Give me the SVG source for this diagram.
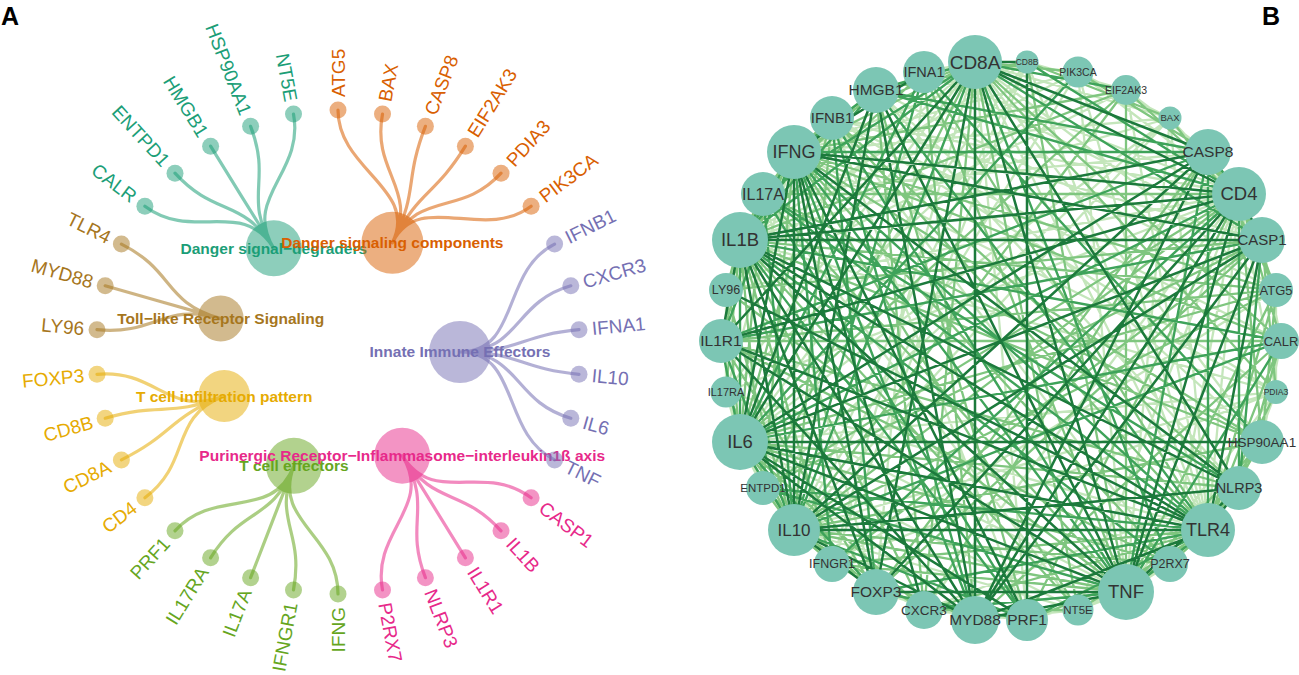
<svg xmlns="http://www.w3.org/2000/svg" width="1299" height="675" viewBox="0 0 1299 675">
<style>
text{font-family:"Liberation Sans",Arial,sans-serif}
.pl{font-size:25px;font-weight:bold;fill:#000}
.hl{font-size:15.5px;font-weight:bold;text-anchor:middle}
.lt{font-size:19px}
.s{text-anchor:start}.e{text-anchor:end}
.hub,.leaf{fill-opacity:.5}
.T{fill:#1B9E77}.O{fill:#D95F02}.P{fill:#7570B3}.K{fill:#E7298A}.G{fill:#66A61E}.Y{fill:#E6AB02}.Br{fill:#A6761D}
.ea path{fill:none;stroke-width:3.2;stroke-opacity:.55;stroke-linecap:round}
.sT{stroke:#1B9E77}.sO{stroke:#D95F02}.sP{stroke:#7570B3}.sK{stroke:#E7298A}.sG{stroke:#66A61E}.sY{stroke:#E6AB02}.sBr{stroke:#A6761D}
.eb path{fill:none;stroke-linecap:round;stroke-linejoin:round}
.e1{stroke:#1c7a3c;stroke-width:2.5}
.e2{stroke:#3ea35a;stroke-width:2.4}
.e3{stroke:#7fc67f;stroke-width:2.3}
.e4{stroke:#c4e6bb;stroke-width:2.3}
.bn circle{fill:#7cc6b4}
.bn text{fill:#333;text-anchor:middle}
</style>
<text class="pl" x="1" y="25">A</text>
<text class="pl" x="1262" y="25">B</text>

<g id="panelA-nodes">
<g id="hub-danger-signal-degraders"><circle class="hub T" cx="273.8" cy="248.3" r="28"/><text class="hl T" x="273.8" y="248.3" dy=".35em">Danger signal−degraders</text></g>
<g id="hub-danger-signaling-components"><circle class="hub O" cx="392.4" cy="242.8" r="31"/><text class="hl O" x="392.4" y="242.8" dy=".35em">Danger signaling components</text></g>
<g id="hub-toll-like"><circle class="hub Br" cx="220.7" cy="318.6" r="23"/><text class="hl Br" x="220.7" y="318.6" dy=".35em">Toll−like Receptor Signaling</text></g>
<g id="hub-t-cell-infiltration"><circle class="hub Y" cx="224.2" cy="396.1" r="26"/><text class="hl Y" x="224.2" y="396.1" dy=".35em">T cell infiltration pattern</text></g>
<g id="hub-t-cell-effectors"><circle class="hub G" cx="293.9" cy="465.8" r="28"/><text class="hl G" x="293.9" y="465.8" dy=".35em">T cell effectors</text></g>
<g id="hub-purinergic"><circle class="hub K" cx="402.2" cy="455.7" r="28"/><text class="hl K" x="402.2" y="455.7" dy=".35em">Purinergic Receptor−Inflammasome−interleukin1ß axis</text></g>
<g id="hub-innate"><circle class="hub P" cx="460" cy="352" r="31"/><text class="hl P" x="460" y="352" dy=".35em">Innate Immune Effectors</text></g>

<g id="a-ATG5"><circle class="leaf O" cx="338" cy="110" r="8.5"/><text class="lt O s" x="338" y="97" dy=".35em" transform="rotate(-90 338 97)">ATG5</text></g>
<g id="a-BAX"><circle class="leaf O" cx="382.5" cy="114.1" r="8.5"/><text class="lt O s" x="384.8" y="101.3" dy=".35em" transform="rotate(-79.41 384.8 101.3)">BAX</text></g>
<g id="a-CASP8"><circle class="leaf O" cx="425.4" cy="126.3" r="8.5"/><text class="lt O s" x="430.1" y="114.2" dy=".35em" transform="rotate(-68.82 430.1 114.2)">CASP8</text></g>
<g id="a-EIF2AK3"><circle class="leaf O" cx="465.4" cy="146.2" r="8.5"/><text class="lt O s" x="472.2" y="135.2" dy=".35em" transform="rotate(-58.24 472.2 135.2)">EIF2AK3</text></g>
<g id="a-PDIA3"><circle class="leaf O" cx="501" cy="173.2" r="8.5"/><text class="lt O s" x="509.8" y="163.6" dy=".35em" transform="rotate(-47.65 509.8 163.6)">PDIA3</text></g>
<g id="a-PIK3CA"><circle class="leaf O" cx="531.1" cy="206.2" r="8.5"/><text class="lt O s" x="541.5" y="198.3" dy=".35em" transform="rotate(-37.06 541.5 198.3)">PIK3CA</text></g>
<g id="a-IFNB1"><circle class="leaf P" cx="554.6" cy="244.1" r="8.5"/><text class="lt P s" x="566.3" y="238.3" dy=".35em" transform="rotate(-26.47 566.3 238.3)">IFNB1</text></g>
<g id="a-CXCR3"><circle class="leaf P" cx="570.8" cy="285.8" r="8.5"/><text class="lt P s" x="583.3" y="282.2" dy=".35em" transform="rotate(-15.88 583.3 282.2)">CXCR3</text></g>
<g id="a-IFNA1"><circle class="leaf P" cx="579" cy="329.7" r="8.5"/><text class="lt P s" x="591.9" y="328.5" dy=".35em" transform="rotate(-5.29 591.9 328.5)">IFNA1</text></g>
<g id="a-IL10"><circle class="leaf P" cx="579" cy="374.3" r="8.5"/><text class="lt P s" x="591.9" y="375.5" dy=".35em" transform="rotate(5.29 591.9 375.5)">IL10</text></g>
<g id="a-IL6"><circle class="leaf P" cx="570.8" cy="418.2" r="8.5"/><text class="lt P s" x="583.3" y="421.8" dy=".35em" transform="rotate(15.88 583.3 421.8)">IL6</text></g>
<g id="a-TNF"><circle class="leaf P" cx="554.6" cy="459.9" r="8.5"/><text class="lt P s" x="566.3" y="465.7" dy=".35em" transform="rotate(26.47 566.3 465.7)">TNF</text></g>
<g id="a-CASP1"><circle class="leaf K" cx="531.1" cy="497.8" r="8.5"/><text class="lt K s" x="541.5" y="505.7" dy=".35em" transform="rotate(37.06 541.5 505.7)">CASP1</text></g>
<g id="a-IL1B"><circle class="leaf K" cx="501" cy="530.8" r="8.5"/><text class="lt K s" x="509.8" y="540.4" dy=".35em" transform="rotate(47.65 509.8 540.4)">IL1B</text></g>
<g id="a-IL1R1"><circle class="leaf K" cx="465.4" cy="557.8" r="8.5"/><text class="lt K s" x="472.2" y="568.8" dy=".35em" transform="rotate(58.24 472.2 568.8)">IL1R1</text></g>
<g id="a-NLRP3"><circle class="leaf K" cx="425.4" cy="577.7" r="8.5"/><text class="lt K s" x="430.1" y="589.8" dy=".35em" transform="rotate(68.82 430.1 589.8)">NLRP3</text></g>
<g id="a-P2RX7"><circle class="leaf K" cx="382.5" cy="589.9" r="8.5"/><text class="lt K s" x="384.8" y="602.7" dy=".35em" transform="rotate(79.41 384.8 602.7)">P2RX7</text></g>
<g id="a-IFNG"><circle class="leaf G" cx="338" cy="594" r="8.5"/><text class="lt G e" x="338" y="607" dy=".35em" transform="rotate(-90 338 607)">IFNG</text></g>
<g id="a-IFNGR1"><circle class="leaf G" cx="293.5" cy="589.9" r="8.5"/><text class="lt G e" x="291.2" y="602.7" dy=".35em" transform="rotate(-79.41 291.2 602.7)">IFNGR1</text></g>
<g id="a-IL17A"><circle class="leaf G" cx="250.6" cy="577.7" r="8.5"/><text class="lt G e" x="245.9" y="589.8" dy=".35em" transform="rotate(-68.82 245.9 589.8)">IL17A</text></g>
<g id="a-IL17RA"><circle class="leaf G" cx="210.6" cy="557.8" r="8.5"/><text class="lt G e" x="203.8" y="568.8" dy=".35em" transform="rotate(-58.24 203.8 568.8)">IL17RA</text></g>
<g id="a-PRF1"><circle class="leaf G" cx="175" cy="530.8" r="8.5"/><text class="lt G e" x="166.2" y="540.4" dy=".35em" transform="rotate(-47.65 166.2 540.4)">PRF1</text></g>
<g id="a-CD4"><circle class="leaf Y" cx="144.9" cy="497.8" r="8.5"/><text class="lt Y e" x="134.5" y="505.7" dy=".35em" transform="rotate(-37.06 134.5 505.7)">CD4</text></g>
<g id="a-CD8A"><circle class="leaf Y" cx="121.4" cy="459.9" r="8.5"/><text class="lt Y e" x="109.7" y="465.7" dy=".35em" transform="rotate(-26.47 109.7 465.7)">CD8A</text></g>
<g id="a-CD8B"><circle class="leaf Y" cx="105.2" cy="418.2" r="8.5"/><text class="lt Y e" x="92.7" y="421.8" dy=".35em" transform="rotate(-15.88 92.7 421.8)">CD8B</text></g>
<g id="a-FOXP3"><circle class="leaf Y" cx="97" cy="374.3" r="8.5"/><text class="lt Y e" x="84.1" y="375.5" dy=".35em" transform="rotate(-5.29 84.1 375.5)">FOXP3</text></g>
<g id="a-LY96"><circle class="leaf Br" cx="97" cy="329.7" r="8.5"/><text class="lt Br e" x="84.1" y="328.5" dy=".35em" transform="rotate(5.29 84.1 328.5)">LY96</text></g>
<g id="a-MYD88"><circle class="leaf Br" cx="105.2" cy="285.8" r="8.5"/><text class="lt Br e" x="92.7" y="282.2" dy=".35em" transform="rotate(15.88 92.7 282.2)">MYD88</text></g>
<g id="a-TLR4"><circle class="leaf Br" cx="121.4" cy="244.1" r="8.5"/><text class="lt Br e" x="109.7" y="238.3" dy=".35em" transform="rotate(26.47 109.7 238.3)">TLR4</text></g>
<g id="a-CALR"><circle class="leaf T" cx="144.9" cy="206.2" r="8.5"/><text class="lt T e" x="134.5" y="198.3" dy=".35em" transform="rotate(37.06 134.5 198.3)">CALR</text></g>
<g id="a-ENTPD1"><circle class="leaf T" cx="175" cy="173.2" r="8.5"/><text class="lt T e" x="166.2" y="163.6" dy=".35em" transform="rotate(47.65 166.2 163.6)">ENTPD1</text></g>
<g id="a-HMGB1"><circle class="leaf T" cx="210.6" cy="146.2" r="8.5"/><text class="lt T e" x="203.8" y="135.2" dy=".35em" transform="rotate(58.24 203.8 135.2)">HMGB1</text></g>
<g id="a-HSP90AA1"><circle class="leaf T" cx="250.6" cy="126.3" r="8.5"/><text class="lt T e" x="245.9" y="114.2" dy=".35em" transform="rotate(68.82 245.9 114.2)">HSP90AA1</text></g>
<g id="a-NT5E"><circle class="leaf T" cx="293.5" cy="114.1" r="8.5"/><text class="lt T e" x="291.2" y="101.3" dy=".35em" transform="rotate(79.41 291.2 101.3)">NT5E</text></g>
</g>

<g id="panelA-connectors" class="ea">
<path class="sT" d="M273.8 248.3C242.2 197.3 192.8 242.3 144.9 206.2M273.8 248.3C242.2 197.3 215.4 217.5 175 173.2M273.8 248.3C242.2 197.3 242.2 197.3 210.6 146.2M273.8 248.3C242.2 197.3 272.3 182.3 250.6 126.3M273.8 248.3C242.2 197.3 304.6 173.1 293.5 114.1"/>
<path class="sO" d="M392.4 242.8C419.1 189.1 338 170 338 110M392.4 242.8C419.1 189.1 371.4 173.1 382.5 114.1M392.4 242.8C419.1 189.1 403.7 182.3 425.4 126.3M392.4 242.8C419.1 189.1 433.8 197.3 465.4 146.2M392.4 242.8C419.1 189.1 460.6 217.5 501 173.2M392.4 242.8C419.1 189.1 483.2 242.3 531.1 206.2"/>
<path class="sP" d="M460 352C520 352 500.9 270.9 554.6 244.1M460 352C520 352 513 302.2 570.8 285.8M460 352C520 352 519.2 335.2 579 329.7M460 352C520 352 519.2 368.8 579 374.3M460 352C520 352 513 401.8 570.8 418.2M460 352C520 352 500.9 433.1 554.6 459.9"/>
<path class="sK" d="M402.2 455.7C433.8 506.7 483.2 461.7 531.1 497.8M402.2 455.7C433.8 506.7 460.6 486.5 501 530.8M402.2 455.7C433.8 506.7 433.8 506.7 465.4 557.8M402.2 455.7C433.8 506.7 403.7 521.7 425.4 577.7M402.2 455.7C433.8 506.7 371.4 530.9 382.5 589.9"/>
<path class="sG" d="M293.9 465.8C272.3 521.7 338 534 338 594M293.9 465.8C272.3 521.7 304.6 530.9 293.5 589.9M293.9 465.8C272.3 521.7 272.3 521.7 250.6 577.7M293.9 465.8C272.3 521.7 242.2 506.7 210.6 557.8M293.9 465.8C272.3 521.7 215.4 486.5 175 530.8"/>
<path class="sY" d="M224.2 396.1C168.3 417.7 192.8 461.7 144.9 497.8M224.2 396.1C168.3 417.7 175.1 433.1 121.4 459.9M224.2 396.1C168.3 417.7 163 401.8 105.2 418.2M224.2 396.1C168.3 417.7 156.8 368.8 97 374.3"/>
<path class="sBr" d="M220.7 318.6C163 302.2 156.8 335.2 97 329.7M220.7 318.6C163 302.2 163 302.2 105.2 285.8M220.7 318.6C163 302.2 175.1 270.9 121.4 244.1"/>
</g>

<g id="panelB-connectors" class="eb">
<path class="e4" d="M1276 290L975 62 1170 118M924 72L975 62 726 290M726 392L975 62 832 564M1027 620L975 62 1208 530M1262 442L975 62M1170 118L1239 194 1078 72M924 72L1239 194 832 118M726 290L1239 194 726 392M924 610L1239 194 1078 610M1170 564L1239 194 1208 530M1276 392L1239 194M1170 118L1126 592 1078 72M726 392L1126 592 1027 620M1078 610L1126 592 1170 564M1276 392L1126 592M1170 118L740 442 1027 62M726 392L740 442 763 488M1078 610L740 442 1276 392M1170 118L740 240 1078 72M1027 62L740 240 1276 392M1170 118L794 152 1078 72M1027 62L794 152 726 392M1276 392L794 152M1170 118L1208 530 1126 90M1078 72L1208 530 1027 62M726 392L1208 530M1170 118L794 530 1078 72M1027 62L794 530 726 392M1078 610L794 530 1276 392M924 72L1262 240 832 118 1027 620M1208 152L763 194 876 592 924 72M1239 488L876 90 1262 442M1126 90L726 290M1170 118L763 488M1078 72L726 392M1276 392L832 118 1281 341M1078 610L763 194M1276 290L876 90M1027 62L832 564 1276 392M924 610L1239 488M1170 564L832 118M1276 290L832 564M1281 341L1262 240M1208 152L1126 90M1170 118L1078 72M1126 90L1027 62M924 72L832 118M832 118L763 194M763 194L726 290M726 290L726 392M726 392L763 488M763 488L832 564M832 564L924 610M876 592L975 620M924 610L1027 620M975 620L1078 610M1078 610L1170 564M1170 564L1239 488M1239 488L1276 392M1262 442L1281 341M1276 392L1276 290"/>
<path class="e3" d="M1281 341L975 62 832 118M794 152L975 62 924 610M1078 610L975 62 1276 392M1078 72L975 62 763 488M1281 341L1239 194 1276 290M794 530L1239 194 763 194M763 488L1239 194 1027 620M1262 442L1239 194 1126 90M794 530L1126 592 1276 290M924 72L1126 592 763 194M726 290L1126 592 832 564M1262 442L1126 592 1027 62M1126 90L1126 592M1276 290L740 442 1126 90M832 118L740 442 763 194M726 290L740 442 832 564M924 610L740 442 1170 564M1239 488L740 442M1276 290L740 240 924 72M763 194L740 240 726 290M726 392L740 240 763 488M832 564L740 240 924 610M1078 610L740 240 1262 442M1126 90L740 240M1281 341L794 152 1276 290M1126 90L794 152 832 118M763 194L794 152 726 290M763 488L794 152 1078 610M1170 564L794 152 1262 442M1281 341L1208 530 1276 290M924 72L1208 530 832 118M832 564L1208 530 924 610M1078 610L1208 530 1170 564M1262 442L1208 530 1276 392M1276 290L794 530 1126 90M832 118L794 530 726 290M763 488L794 530 832 564M924 610L794 530 1170 564M1262 442L794 530M1208 152L1262 240 876 592 1208 152M876 90L1027 620M832 118L1239 488 721 341 876 592M763 194L1262 442M924 72L975 620M876 90L924 610 1208 152M832 564L1262 240 726 290M1170 564L721 341 1276 290M763 488L1262 240M1281 341L721 341M1281 341L975 620M1281 341L1239 194M1276 290L1208 152M1262 240L1170 118M1208 152L1078 72M1170 118L1027 62M1027 62L876 90M876 90L763 194M832 118L740 240M763 194L721 341M726 290L740 442M726 392L794 530M763 488L876 592M832 564L975 620M924 610L1078 610M1027 620L1170 564M1170 564L1262 442M1239 488L1281 341M1262 442L1276 290M1276 392L1262 240"/>
<path class="e2" d="M1262 240L975 62 876 90M740 240L975 62 794 530M1170 564L975 62 1126 90M763 194L975 62M1208 152L1239 194 740 442M876 90L1239 194 832 564M1239 488L1239 194 1027 62M794 152L1126 592 1208 530M1208 152L1126 592 832 118M924 610L1126 592 1281 341M763 488L1126 592M740 240L740 442 794 530M1281 341L740 442 924 72M876 592L740 442 721 341M1078 72L740 442M794 152L740 240 1281 341M876 90L740 240 1027 620M1170 564L740 240 832 118M1208 530L794 152 1208 152M832 564L794 152 975 620M876 90L794 152 721 341M1208 152L1208 530 876 90M763 488L1208 530 876 592M1027 620L1208 530 763 194M721 341L794 530 1027 620M1281 341L794 530 763 194M924 72L794 530M1262 240L721 341 1208 152M876 592L832 118M1239 488L763 194M1262 240L1239 488M1208 152L876 90M876 592L1027 620M975 620L832 118M924 72L1262 442M763 194L1027 620"/>
<path class="e1" d="M975 620L975 62 1239 194M1126 592L975 62 740 442M1208 152L975 62 1027 62M1239 488L975 62 721 341M876 592L975 62M740 240L1239 194 1126 592M975 620L1239 194 1262 240M721 341L1239 194 876 592M794 152L1239 194M740 442L1126 592 740 240M1262 240L1126 592 876 90M975 620L1126 592 721 341M1239 488L1126 592 876 592M1262 442L740 442 794 152M1208 530L740 442 1262 240M1208 152L740 442 975 620M876 90L740 442 1027 620M1262 240L740 240 1208 530M794 530L740 240 975 620M1208 152L740 240 1239 488M876 592L740 240 721 341M794 530L794 152 1262 240M1027 620L794 152 876 592M1239 488L794 152 924 610M924 72L794 152M794 530L1208 530 975 620M721 341L1208 530 726 290M1262 240L1208 530 1239 488M876 592L794 530 975 620M1262 240L794 530 1208 152M876 90L794 530 1239 488M1262 240L975 620 1208 152M721 341L975 620 876 90M1027 620L1027 62"/>
</g>

<g id="panelB-nodes" class="bn">
<g id="b-CALR"><circle cx="1281" cy="341" r="18"/><text x="1281" y="341" dy=".35em" font-size="13">CALR</text></g>
<g id="b-ATG5"><circle cx="1276" cy="290" r="17"/><text x="1276" y="290" dy=".35em" font-size="13">ATG5</text></g>
<g id="b-CASP1"><circle cx="1262" cy="240" r="23"/><text x="1262" y="240" dy=".35em" font-size="15">CASP1</text></g>
<g id="b-CD4"><circle cx="1239" cy="194" r="27"/><text x="1239" y="194" dy=".35em" font-size="18.5">CD4</text></g>
<g id="b-CASP8"><circle cx="1208" cy="152" r="23"/><text x="1208" y="152" dy=".35em" font-size="15.5">CASP8</text></g>
<g id="b-BAX"><circle cx="1170" cy="118" r="11.5"/><text x="1170" y="118" dy=".35em" font-size="9.5">BAX</text></g>
<g id="b-EIF2AK3"><circle cx="1126" cy="90" r="15"/><text x="1126" y="90" dy=".35em" font-size="10.5">EIF2AK3</text></g>
<g id="b-PIK3CA"><circle cx="1078" cy="72" r="15.5"/><text x="1078" y="72" dy=".35em" font-size="10.5">PIK3CA</text></g>
<g id="b-CD8B"><circle cx="1027" cy="62" r="11.5"/><text x="1027" y="62" dy=".35em" font-size="8.5">CD8B</text></g>
<g id="b-CD8A"><circle cx="975" cy="62" r="27"/><text x="975" y="62" dy=".35em" font-size="19">CD8A</text></g>
<g id="b-IFNA1"><circle cx="924" cy="72" r="21"/><text x="924" y="72" dy=".35em" font-size="14.5">IFNA1</text></g>
<g id="b-HMGB1"><circle cx="876" cy="90" r="23"/><text x="876" y="90" dy=".35em" font-size="15.5">HMGB1</text></g>
<g id="b-IFNB1"><circle cx="832" cy="118" r="22"/><text x="832" y="118" dy=".35em" font-size="15">IFNB1</text></g>
<g id="b-IFNG"><circle cx="794" cy="152" r="27"/><text x="794" y="152" dy=".35em" font-size="18">IFNG</text></g>
<g id="b-IL17A"><circle cx="763" cy="194" r="22"/><text x="763" y="194" dy=".35em" font-size="16">IL17A</text></g>
<g id="b-IL1B"><circle cx="740" cy="240" r="28"/><text x="740" y="240" dy=".35em" font-size="18.5">IL1B</text></g>
<g id="b-LY96"><circle cx="726" cy="290" r="17"/><text x="726" y="290" dy=".35em" font-size="12.5">LY96</text></g>
<g id="b-IL1R1"><circle cx="721" cy="341" r="22"/><text x="721" y="341" dy=".35em" font-size="15.5">IL1R1</text></g>
<g id="b-IL17RA"><circle cx="726" cy="392" r="15.5"/><text x="726" y="392" dy=".35em" font-size="11">IL17RA</text></g>
<g id="b-IL6"><circle cx="740" cy="442" r="28"/><text x="740" y="442" dy=".35em" font-size="18.5">IL6</text></g>
<g id="b-ENTPD1"><circle cx="763" cy="488" r="17"/><text x="763" y="488" dy=".35em" font-size="11.5">ENTPD1</text></g>
<g id="b-IL10"><circle cx="794" cy="530" r="26"/><text x="794" y="530" dy=".35em" font-size="17">IL10</text></g>
<g id="b-IFNGR1"><circle cx="832" cy="564" r="18"/><text x="832" y="564" dy=".35em" font-size="12.5">IFNGR1</text></g>
<g id="b-FOXP3"><circle cx="876" cy="592" r="23"/><text x="876" y="592" dy=".35em" font-size="15.5">FOXP3</text></g>
<g id="b-CXCR3"><circle cx="924" cy="610" r="19"/><text x="924" y="610" dy=".35em" font-size="13.5">CXCR3</text></g>
<g id="b-MYD88"><circle cx="975" cy="620" r="24"/><text x="975" y="620" dy=".35em" font-size="15.5">MYD88</text></g>
<g id="b-PRF1"><circle cx="1027" cy="620" r="21"/><text x="1027" y="620" dy=".35em" font-size="15.5">PRF1</text></g>
<g id="b-NT5E"><circle cx="1078" cy="610" r="15.5"/><text x="1078" y="610" dy=".35em" font-size="11.5">NT5E</text></g>
<g id="b-TNF"><circle cx="1126" cy="592" r="28"/><text x="1126" y="592" dy=".35em" font-size="18.5">TNF</text></g>
<g id="b-P2RX7"><circle cx="1170" cy="564" r="18"/><text x="1170" y="564" dy=".35em" font-size="12.5">P2RX7</text></g>
<g id="b-TLR4"><circle cx="1208" cy="530" r="27"/><text x="1208" y="530" dy=".35em" font-size="18">TLR4</text></g>
<g id="b-NLRP3"><circle cx="1239" cy="488" r="22"/><text x="1239" y="488" dy=".35em" font-size="14.5">NLRP3</text></g>
<g id="b-HSP90AA1"><circle cx="1262" cy="442" r="22"/><text x="1262" y="442" dy=".35em" font-size="13.5">HSP90AA1</text></g>
<g id="b-PDIA3"><circle cx="1276" cy="392" r="12"/><text x="1276" y="392" dy=".35em" font-size="8.5">PDIA3</text></g>
</g>
</svg>
